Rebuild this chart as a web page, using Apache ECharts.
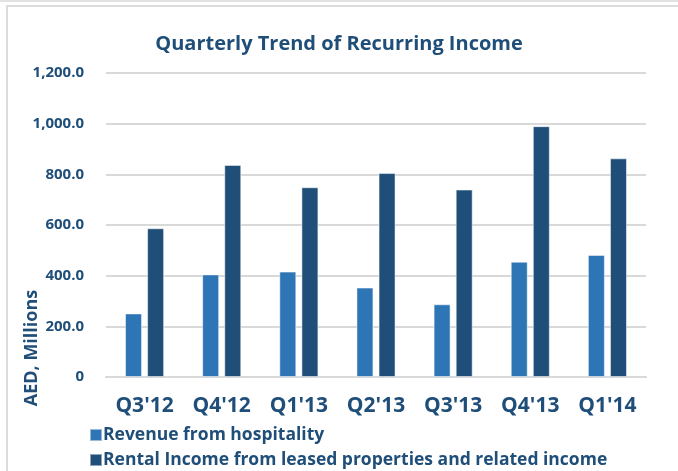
<!DOCTYPE html>
<html>
<head>
<meta charset="utf-8">
<script src="https://cdn.jsdelivr.net/npm/echarts@6/dist/echarts.min.js"></script>
<style>
  html, body { margin: 0; padding: 0; background: #fff; }
  #chart { width: 678px; height: 471px; }
</style>
</head>
<body>
<div id="chart"></div>
<script>
// quarters on the x axis
const quarters = ["Q3'12", "Q4'12", "Q1'13", "Q2'13", "Q3'13", "Q4'13", "Q1'14"]
// AED millions
const hospitality = [251, 405, 416, 353, 287, 455, 482]
const rental = [587, 837, 749, 805, 740, 990, 863]
const seriesNames = ['Revenue from hospitality', 'Rental Income from leased properties and related income']

const navy = '#1F4E79'
const font = 'Open Sans'

const chart = echarts.init(document.getElementById('chart'))
chart.setOption({
  animation: false,
  textStyle: { fontFamily: font },
  title: {
    text: 'Quarterly Trend of Recurring Income',
    left: 'center',
    top: 29,
    textStyle: { color: navy, fontSize: 20, fontWeight: 'bold', fontFamily: font }
  },
  legend: {
    orient: 'vertical',
    left: 84,
    top: 421,
    height: 80,
    itemWidth: 12,
    itemHeight: 12,
    itemGap: 7,
    icon: 'rect',
    data: seriesNames,
    textStyle: { color: navy, fontSize: 17.5, fontWeight: 'bold', fontFamily: font, padding: [0, 0, 0, -4] }
  },
  grid: { left: 106, right: 32, top: 73, bottom: 94 },
  xAxis: {
    type: 'category',
    data: quarters,
    axisTick: { show: false },
    axisLine: { lineStyle: { color: '#d9d9d9', width: 2 } },
    axisLabel: { color: navy, fontSize: 21, fontWeight: 'bold', margin: 19, interval: 0 }
  },
  yAxis: {
    type: 'value',
    min: 0,
    max: 1200,
    interval: 200,
    axisLine: { show: false },
    axisTick: { show: false },
    splitLine: { lineStyle: { color: '#d9d9d9', width: 2 } },
    axisLabel: {
      color: navy,
      fontSize: 15,
      fontWeight: 'bold',
      margin: 22,
      formatter: v => v === 0 ? '0' : v.toLocaleString('en-US', { minimumFractionDigits: 1, maximumFractionDigits: 1 })
    }
  },
  graphic: [
    // frame lines of the pasted picture
    { type: 'rect', shape: { x: 0, y: 0, width: 678, height: 2 }, style: { fill: '#e3e3e3' } },
    { type: 'rect', shape: { x: 6, y: 5, width: 672, height: 2 }, style: { fill: '#dcdcdc' } },
    { type: 'rect', shape: { x: 6, y: 5, width: 2, height: 466 }, style: { fill: '#dcdcdc' } },
    {
      type: 'text',
      x: 32,
      y: 348,
      rotation: Math.PI / 2,
      style: {
        text: 'AED, Millions',
        fill: navy,
        font: 'bold 18px "Open Sans"',
        align: 'center',
        verticalAlign: 'middle'
      }
    }
  ],
  series: [
    {
      name: seriesNames[0],
      type: 'bar',
      data: hospitality,
      barWidth: 17,
      barGap: '30%',
      itemStyle: { color: '#2E75B6', borderColor: 'rgba(255,255,255,0.5)', borderWidth: 1 }
    },
    {
      name: seriesNames[1],
      type: 'bar',
      data: rental,
      barWidth: 17,
      itemStyle: { color: navy, borderColor: 'rgba(255,255,255,0.5)', borderWidth: 1 }
    }
  ]
})
</script>
</body>
</html>
